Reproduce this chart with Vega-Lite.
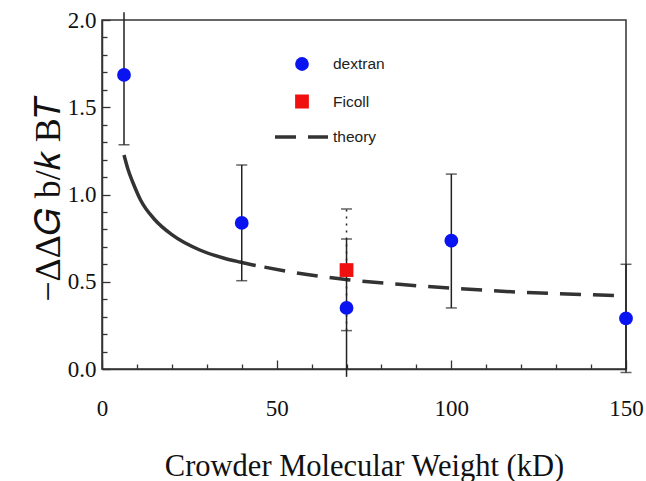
{
  "$schema": "https://vega.github.io/schema/vega-lite/v6.json",
  "width": 524,
  "height": 349,
  "autosize": "none",
  "padding": {"left": 102, "top": 20, "right": 20, "bottom": 112},
  "background": "white",
  "config": {
    "view": {"stroke": "#333333", "strokeWidth": 1.5},
    "axis": {
      "domainColor": "#333333",
      "domainWidth": 1.5,
      "tickColor": "#333333",
      "tickWidth": 1.3,
      "grid": false,
      "labelFont": "Liberation Serif",
      "labelColor": "#111111",
      "labelOverlap": false,
      "labelFlush": false,
      "titleFont": "Liberation Serif",
      "titleFontWeight": "normal",
      "titleColor": "#111111"
    },
    "legend": {
      "title": null,
      "orient": "none",
      "padding": 0,
      "clipHeight": 16,
      "rowPadding": 20.5,
      "labelFont": "Liberation Sans",
      "labelFontSize": 15.5,
      "labelColor": "#222222"
    }
  },
  "datasets": {
    "points": [
      {"series": "dextran", "mw": 6.3, "dg": 1.685, "lo": 1.285, "hi": 2.045},
      {"series": "dextran", "mw": 40, "dg": 0.837, "lo": 0.506, "hi": 1.169},
      {"series": "dextran", "mw": 70, "dg": 0.35, "lo": -0.045, "hi": 0.745},
      {"series": "Ficoll", "mw": 70, "dg": 0.567, "lo": 0.22, "hi": 0.917},
      {"series": "dextran", "mw": 100, "dg": 0.735, "lo": 0.35, "hi": 1.117},
      {"series": "dextran", "mw": 150, "dg": 0.29, "lo": -0.02, "hi": 0.6}
    ],
    "theorySolid": [
      {"series": "theory", "mw": 6.3, "dg": 1.226},
      {"series": "theory", "mw": 7.5, "dg": 1.14},
      {"series": "theory", "mw": 8.9, "dg": 1.066},
      {"series": "theory", "mw": 11, "dg": 0.97},
      {"series": "theory", "mw": 15.2, "dg": 0.854},
      {"series": "theory", "mw": 20, "dg": 0.77},
      {"series": "theory", "mw": 28, "dg": 0.682},
      {"series": "theory", "mw": 35, "dg": 0.635},
      {"series": "theory", "mw": 39.5, "dg": 0.613},
      {"series": "theory", "mw": 44, "dg": 0.593}
    ],
    "theoryDashed": [
      {"series": "theory", "mw": 46.5, "dg": 0.584},
      {"series": "theory", "mw": 55, "dg": 0.553},
      {"series": "theory", "mw": 71, "dg": 0.51},
      {"series": "theory", "mw": 85, "dg": 0.485},
      {"series": "theory", "mw": 99.6, "dg": 0.464},
      {"series": "theory", "mw": 120, "dg": 0.44},
      {"series": "theory", "mw": 142.6, "dg": 0.424},
      {"series": "theory", "mw": 150, "dg": 0.42}
    ]
  },
  "encoding": {
    "x": {
      "type": "quantitative",
      "scale": {"domain": [0, 150], "nice": false, "zero": false},
      "axis": {
        "title": "Crowder Molecular Weight (kD)",
        "titleFontSize": 30.5,
        "titleBaseline": "alphabetic",
        "titleY": 106,
        "values": [0, 10, 20, 30, 40, 50, 60, 70, 80, 90, 100, 110, 120, 130, 140, 150],
        "format": "d",
        "labelExpr": "datum.value % 50 == 0 ? datum.label : ''",
        "labelFontSize": 23,
        "tickSize": {"expr": "datum.value % 50 == 0 ? -9 : -5"},
        "labelPadding": 37
      }
    },
    "y": {
      "type": "quantitative",
      "scale": {"domain": [0, 2], "nice": false, "zero": false},
      "axis": {
        "title": "−ΔΔ𝐺 b/𝑘 B𝑇",
        "titleFontSize": 36,
        "titleBaseline": "alphabetic",
        "titleX": -43,
        "titleY": 178,
        "titleAngle": -90,
        "values": [0, 0.1, 0.2, 0.3, 0.4, 0.5, 0.6, 0.7, 0.8, 0.9, 1, 1.1, 1.2, 1.3, 1.4, 1.5, 1.6, 1.7, 1.8, 1.9, 2],
        "format": ".1f",
        "labelExpr": "round(datum.value * 10) % 5 == 0 ? datum.label : ''",
        "labelFontSize": 23,
        "tickSize": {"expr": "round(datum.value * 10) % 5 == 0 ? -8 : -5"},
        "labelPadding": 14
      }
    }
  },
  "layer": [
    {
      "data": {"name": "theorySolid"},
      "mark": {"type": "line", "color": "#333333", "strokeWidth": 3.5, "interpolate": "monotone"},
      "encoding": {"x": {"field": "mw"}, "y": {"field": "dg"}}
    },
    {
      "data": {"name": "theoryDashed"},
      "mark": {"type": "line", "color": "#333333", "strokeWidth": 3.5, "interpolate": "monotone"},
      "encoding": {
        "x": {"field": "mw"},
        "y": {"field": "dg"},
        "strokeDash": {
          "field": "series",
          "type": "nominal",
          "scale": {"domain": ["theory"], "range": [[21, 12]]},
          "legend": {
            "legendX": 171,
            "legendY": 109,
            "symbolType": "stroke",
            "symbolSize": 2809,
            "symbolStrokeWidth": 3.5,
            "symbolStrokeColor": "#333333",
            "labelOffset": 3
          }
        }
      }
    },
    {
      "data": {"name": "points"},
      "transform": [{"filter": "datum.series == 'dextran'"}],
      "mark": {"type": "rule", "color": "#222222", "strokeWidth": 1.5},
      "encoding": {"x": {"field": "mw"}, "y": {"field": "lo"}, "y2": {"field": "hi"}}
    },
    {
      "data": {"name": "points"},
      "transform": [{"filter": "datum.series == 'Ficoll'"}],
      "mark": {"type": "rule", "color": "#222222", "strokeWidth": 1.5, "strokeDash": [2, 5]},
      "encoding": {"x": {"field": "mw"}, "y": {"field": "lo"}, "y2": {"field": "hi"}}
    },
    {
      "data": {"name": "points"},
      "transform": [{"filter": "datum.series == 'dextran' && datum.hi <= 2"}],
      "mark": {"type": "tick", "orient": "horizontal", "color": "#222222", "size": 11, "thickness": 1.5},
      "encoding": {"x": {"field": "mw"}, "y": {"field": "hi"}}
    },
    {
      "data": {"name": "points"},
      "transform": [{"filter": "datum.series == 'dextran' && datum.lo >= -0.03"}],
      "mark": {"type": "tick", "orient": "horizontal", "color": "#222222", "size": 11, "thickness": 1.5},
      "encoding": {"x": {"field": "mw"}, "y": {"field": "lo"}}
    },
    {
      "data": {"name": "points"},
      "transform": [{"filter": "datum.series == 'Ficoll'"}],
      "mark": {"type": "tick", "orient": "horizontal", "color": "#222222", "size": 11, "thickness": 1.5, "strokeDash": [2, 4]},
      "encoding": {"x": {"field": "mw"}, "y": {"field": "hi"}}
    },
    {
      "data": {"name": "points"},
      "transform": [{"filter": "datum.series == 'Ficoll'"}],
      "mark": {"type": "tick", "orient": "horizontal", "color": "#222222", "size": 11, "thickness": 1.5, "strokeDash": [2, 4]},
      "encoding": {"x": {"field": "mw"}, "y": {"field": "lo"}}
    },
    {
      "data": {"name": "points"},
      "mark": {"type": "point", "filled": true, "size": 190, "opacity": 1},
      "encoding": {
        "x": {"field": "mw"},
        "y": {"field": "dg"},
        "color": {
          "field": "series",
          "type": "nominal",
          "scale": {"domain": ["dextran", "Ficoll"], "range": ["#0a14f0", "#f01010"]},
          "legend": {
            "legendX": 192,
            "legendY": 36,
            "symbolSize": 190,
            "symbolOpacity": 1,
            "labelOffset": 23
          }
        },
        "shape": {
          "field": "series",
          "type": "nominal",
          "scale": {"domain": ["dextran", "Ficoll"], "range": ["circle", "square"]},
          "legend": {
            "legendX": 192,
            "legendY": 36,
            "symbolSize": 190,
            "symbolOpacity": 1,
            "labelOffset": 23
          }
        }
      }
    }
  ]
}
